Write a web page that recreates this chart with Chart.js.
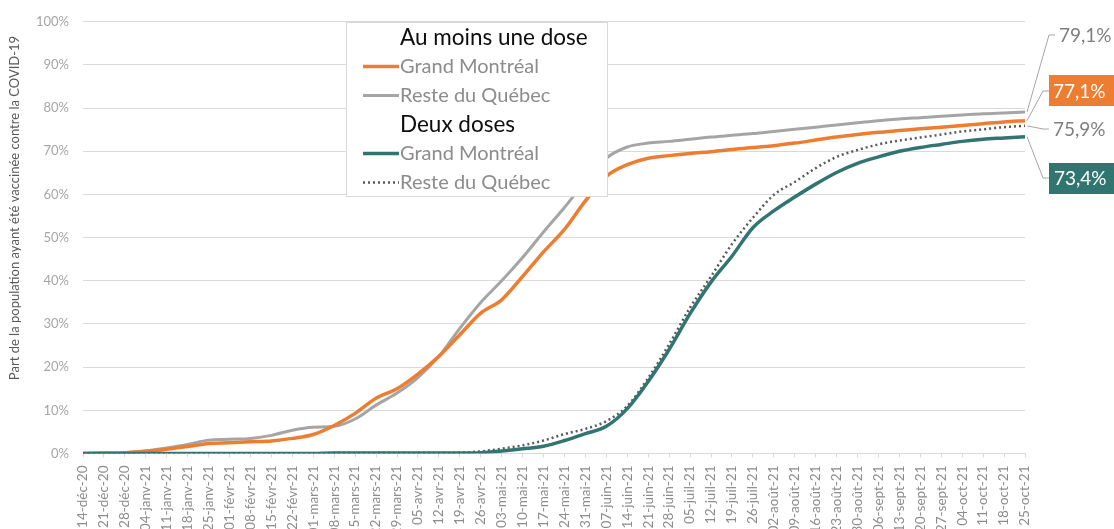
<!DOCTYPE html>
<html><head><meta charset="utf-8">
<script src="https://cdn.jsdelivr.net/npm/chart.js@4.4.0/dist/chart.umd.min.js"></script>
<style>html,body{margin:0;padding:0;background:#fff;overflow:hidden}#wrap{width:1114px;height:529px;position:relative}</style>
</head><body><div id="wrap"><canvas id="c"></canvas></div>
<script>
const weekLabels = ['14-déc-20','21-déc-20','28-déc-20','04-janv-21','11-janv-21','18-janv-21','25-janv-21','01-févr-21','08-févr-21','15-févr-21','22-févr-21','01-mars-21','08-mars-21','15-mars-21','22-mars-21','29-mars-21','05-avr-21','12-avr-21','19-avr-21','26-avr-21','03-mai-21','10-mai-21','17-mai-21','24-mai-21','31-mai-21','07-juin-21','14-juin-21','21-juin-21','28-juin-21','05-juil-21','12-juil-21','19-juil-21','26-juil-21','02-août-21','09-août-21','16-août-21','23-août-21','30-août-21','06-sept-21','13-sept-21','20-sept-21','27-sept-21','04-oct-21','11-oct-21','18-oct-21','25-oct-21'];
const oneDoseMontreal = [0,0.1,0.2,0.5,1.0,1.6,2.3,2.5,2.7,2.9,3.5,4.4,6.5,9.3,12.8,15.0,18.4,22.5,27.5,32.5,35.6,41.0,46.7,51.9,58.5,64.2,66.9,68.4,69.0,69.5,69.9,70.4,70.9,71.3,71.9,72.6,73.3,73.9,74.4,74.8,75.2,75.6,76.0,76.4,76.8,77.1];
const oneDoseRest = [0,0.1,0.2,0.6,1.3,2.1,3.1,3.3,3.5,4.2,5.4,6.1,6.3,8.0,11.2,14.0,17.6,22.5,29.0,35.0,40.0,45.4,51.3,57.0,63.0,68.4,71.0,71.9,72.3,72.8,73.3,73.7,74.1,74.6,75.1,75.6,76.1,76.6,77.1,77.5,77.8,78.1,78.4,78.7,78.9,79.1];
const twoDoseMontreal = [0,0,0,0,0,0,0,0,0,0,0,0,0.1,0.1,0.1,0.1,0.1,0.1,0.1,0.2,0.6,1.1,1.7,3.0,4.6,6.3,10.4,16.7,24.1,32.4,39.7,45.7,52.3,56.2,59.4,62.4,65.1,67.2,68.7,70.0,70.9,71.6,72.3,72.8,73.1,73.4];
const twoDoseRest = [0,0,0,0,0,0,0,0,0,0,0,0,0.1,0.1,0.1,0.1,0.1,0.1,0.2,0.5,1.1,1.9,3.0,4.5,5.7,7.5,11.0,17.5,25.3,33.8,41.0,48.5,54.6,59.9,62.9,66.1,68.7,70.3,71.6,72.5,73.2,73.9,74.6,75.1,75.6,75.9];
const seriesNames = ['Grand Montréal','Reste du Québec'];
const legendHeaders = ['Au moins une dose','Deux doses'];
const endLabels = ['79,1%','77,1%','75,9%','73,4%'];
const yAxisTitle = 'Part de la population ayant été vaccinée contre la COVID-19';

const ORANGE = '#ED7D31', GREY = '#A5A5A5', TEAL = '#317571', DOT = '#595959';
const FONT = 'Lato, "Open Sans", sans-serif';

const overlay = {
  id: 'overlay',
  afterDatasetsDraw(chart) {
    const ctx = chart.ctx, ys = chart.scales.y, ca = chart.chartArea;
    ctx.save();
    // y axis title
    ctx.save();
    ctx.translate(15, 208);
    ctx.rotate(-Math.PI / 2);
    ctx.font = '13px ' + FONT;
    ctx.fillStyle = '#595959';
    ctx.textAlign = 'center';
    ctx.textBaseline = 'middle';
    ctx.fillText(yAxisTitle, 0, 0);
    ctx.restore();

    // legend box
    ctx.fillStyle = '#fff';
    ctx.fillRect(346.5, 22.5, 261, 174);
    ctx.strokeStyle = '#d9d9d9';
    ctx.lineWidth = 1;
    ctx.strokeRect(346.5, 22.5, 261, 174);
    ctx.textBaseline = 'middle';
    ctx.textAlign = 'left';
    const rows = [
      {t: legendHeaders[0], y: 37.5, head: true},
      {t: seriesNames[0], y: 66.5, c: ORANGE, w: 3.5},
      {t: seriesNames[1], y: 95.5, c: GREY, w: 3},
      {t: legendHeaders[1], y: 124.5, head: true},
      {t: seriesNames[0], y: 153.5, c: TEAL, w: 3.5},
      {t: seriesNames[1], y: 182.5, c: DOT, w: 2.5, dash: [2, 3]}
    ];
    rows.forEach(r => {
      if (r.head) {
        ctx.font = '22.5px ' + FONT;
        ctx.fillStyle = '#0d0d0d';
        ctx.fillText(r.t, 400, r.y);
      } else {
        ctx.save();
        ctx.strokeStyle = r.c;
        ctx.lineWidth = r.w;
        ctx.setLineDash(r.dash || []);
        ctx.beginPath();
        ctx.moveTo(363, r.y);
        ctx.lineTo(399, r.y);
        ctx.stroke();
        ctx.restore();
        ctx.font = '20px ' + FONT;
        ctx.fillStyle = '#8c8c8c';
        ctx.fillText(r.t, 400, r.y);
      }
    });

    // end labels
    const last = weekLabels.length - 1;
    const ends = [
      {v: oneDoseRest[last], ly: 35, ex: 1049, tx: 1059, text: endLabels[0]},
      {v: oneDoseMontreal[last], ly: 91, ex: 1043, tx: 1053, text: endLabels[1], box: ORANGE, by: 75, bh: 31},
      {v: twoDoseRest[last], ly: 129, ex: 1043, tx: 1053, text: endLabels[2]},
      {v: twoDoseMontreal[last], ly: 178, ex: 1043, tx: 1054, text: endLabels[3], box: TEAL, by: 163, bh: 31}
    ];
    ends.forEach(e => {
      const py = ys.getPixelForValue(e.v);
      ctx.strokeStyle = '#a6a6a6';
      ctx.lineWidth = 1;
      ctx.setLineDash([]);
      ctx.beginPath();
      ctx.moveTo(ca.right + 2, py);
      ctx.lineTo(e.ex, e.ly);
      ctx.lineTo(e.tx - 4, e.ly);
      ctx.stroke();
      if (e.box) {
        ctx.fillStyle = e.box;
        ctx.fillRect(1049, e.by, 66, e.bh);
        ctx.fillStyle = '#fff';
      } else {
        ctx.fillStyle = '#7f7f7f';
      }
      ctx.font = '19px ' + FONT;
      ctx.textAlign = 'left';
      ctx.textBaseline = 'middle';
      ctx.fillText(e.text, e.tx, e.ly + 1);
    });
    ctx.restore();
  }
};

new Chart(document.getElementById('c'), {
  type: 'line',
  data: {
    labels: weekLabels,
    datasets: [
      {label: seriesNames[0] + ' (2 doses)', data: twoDoseMontreal, borderColor: TEAL, borderWidth: 3.5},
      {label: seriesNames[1] + ' (2 doses)', data: twoDoseRest, borderColor: DOT, borderWidth: 2.5, borderDash: [2, 3]},
      {label: seriesNames[0] + ' (1 dose)', data: oneDoseMontreal, borderColor: ORANGE, borderWidth: 3.5},
      {label: seriesNames[1] + ' (1 dose)', data: oneDoseRest, borderColor: GREY, borderWidth: 3}
    ].map(d => Object.assign(d, {pointRadius: 0, fill: false, cubicInterpolationMode: 'monotone'}))
  },
  options: {
    responsive: true,
    maintainAspectRatio: false,
    animation: false,
    layout: {padding: {left: 0, right: 89, top: 14, bottom: 0}},
    plugins: {legend: {display: false}, tooltip: {enabled: false}},
    scales: {
      x: {
        offset: false,
        grid: {drawOnChartArea: false, drawTicks: true, tickLength: 4, color: '#d9d9d9'},
        border: {color: '#d9d9d9'},
        ticks: {autoSkip: false, minRotation: 90, maxRotation: 90, padding: 8, color: '#8c8c8c', font: {family: FONT, size: 13.5}},
        afterFit(s) { s.height = 75.5; }
      },
      y: {
        min: 0, max: 100,
        grid: {color: '#d9d9d9', drawTicks: false},
        border: {display: false},
        ticks: {stepSize: 10, padding: 14, color: '#a6a6a6', font: {family: FONT, size: 13}, callback: v => v + '%'},
        afterFit(s) { s.width = 83; }
      }
    }
  },
  plugins: [overlay]
});
</script>
</body></html>
